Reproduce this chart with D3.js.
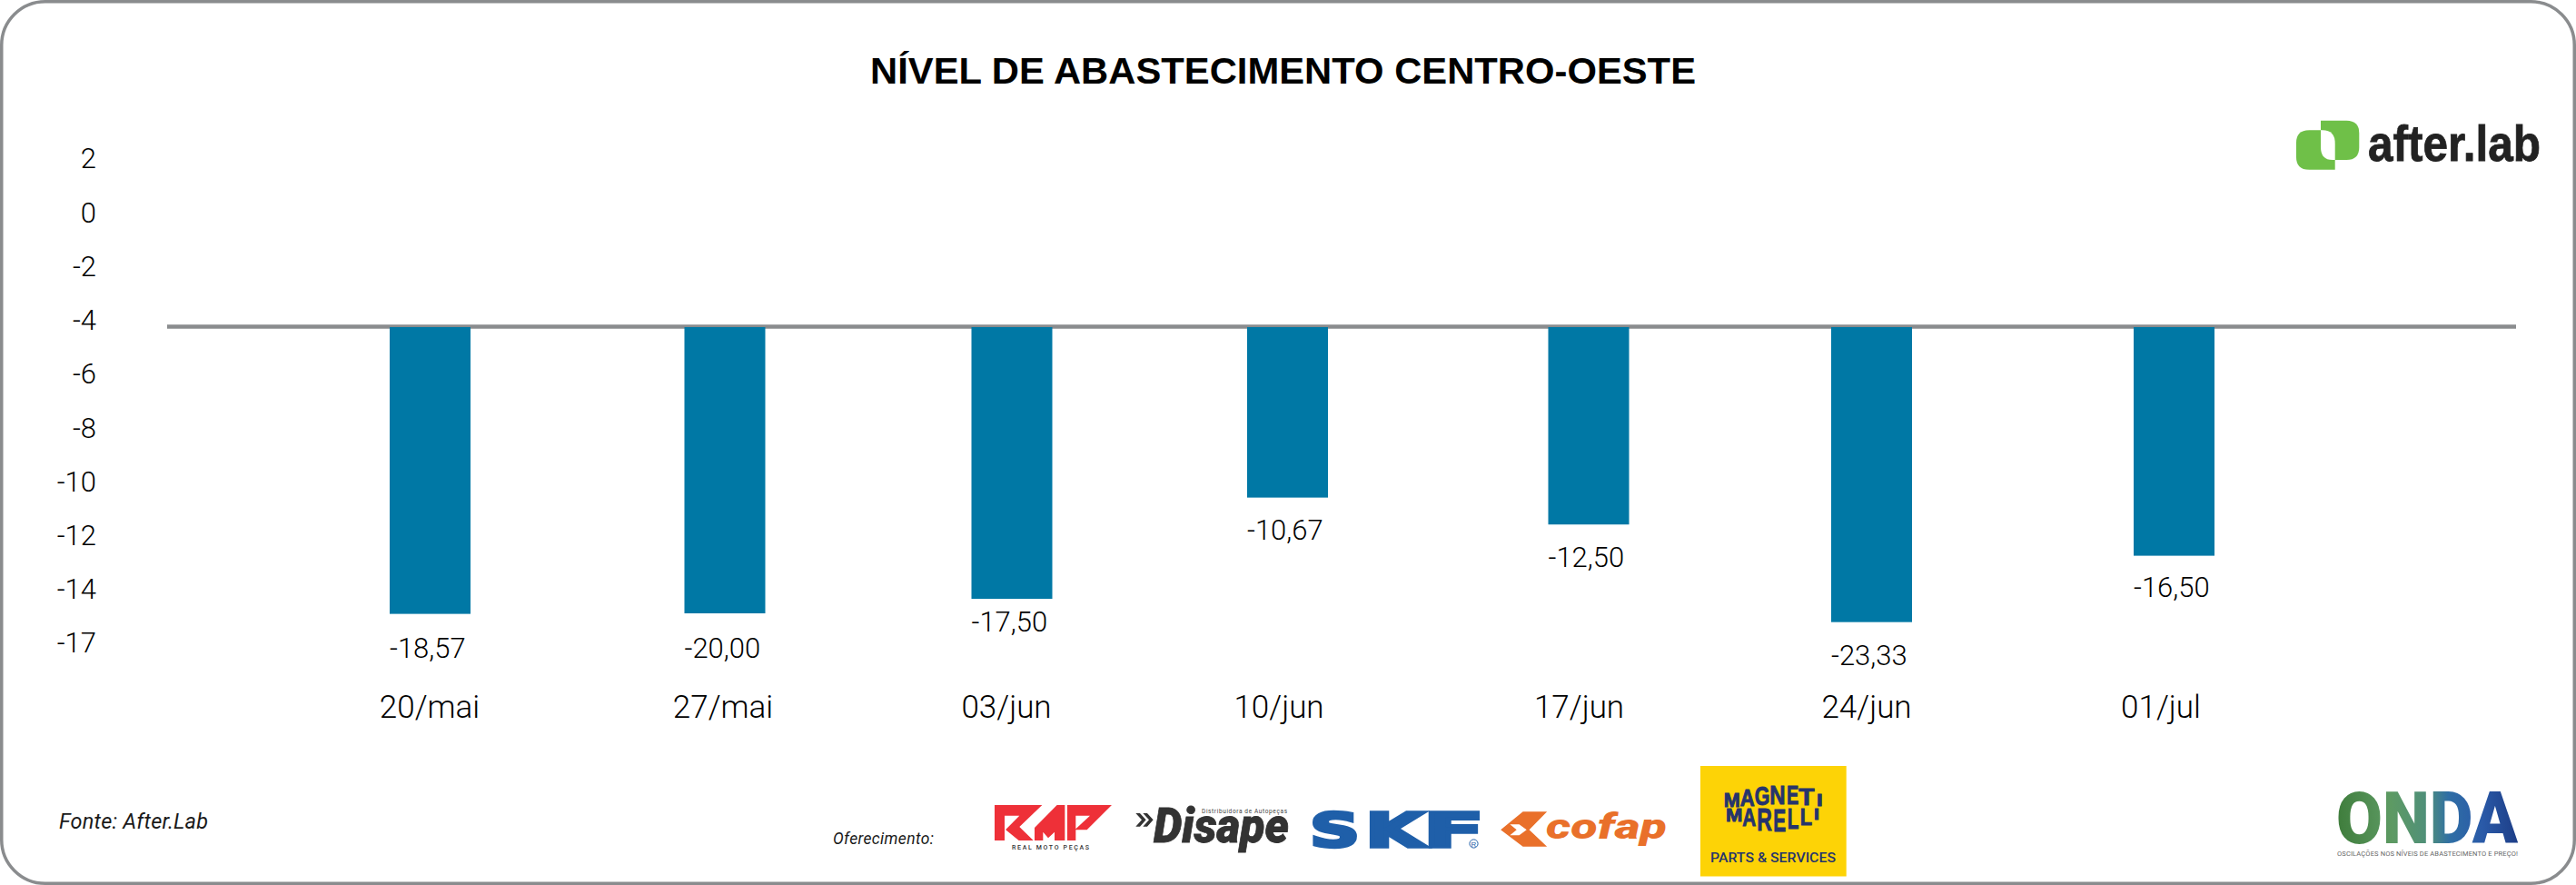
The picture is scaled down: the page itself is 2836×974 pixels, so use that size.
<!DOCTYPE html>
<html lang="pt-BR">
<head>
<meta charset="utf-8">
<title>Nível de abastecimento Centro-Oeste</title>
<script src="https://cdn.jsdelivr.net/npm/d3@7"></script>
<style>
html,body{margin:0;padding:0;background:#fff}
svg{display:block}
</style>
</head>
<body>
<svg id="chart" width="2836" height="974" viewBox="0 0 2836 974"></svg>
<script>
// ---- data ----
const titleText = "NÍVEL DE ABASTECIMENTO CENTRO-OESTE";
const categories = ["20/mai","27/mai","03/jun","10/jun","17/jun","24/jun","01/jul"];
// Where each bar ends when read against the printed axis
const barLevels = [-15.01,-14.98,-14.17,-10.35,-11.35,-15.47,-12.51];
// The value printed beneath each bar
const printedValues = [-18.57,-20.00,-17.50,-10.67,-12.50,-23.33,-16.50];
const yTickValues = [2,0,-2,-4,-6,-8,-10,-12,-14,-17];
const baselineValue = -4;

// ---- layout (the source places its columns and labels by hand) ----
const barLefts   = [429,753.5,1069.5,1373,1704.5,2016,2349];
const dateCentres= [473,796,1108,1408,1738.5,2055,2379];
const labelGaps  = [37,37.7,24,35,35.4,36.3,34];
const barWidth = 89;
const FONT = "Roboto, 'Liberation Sans', sans-serif";
const HELV = "'Liberation Sans', Arial, sans-serif";
const GREY = "#8a8c8e", BAR = "#0078a5";

const svg = d3.select("#chart");
const defs = svg.append("defs");

// ---- scales ----
const y = d3.scaleLinear().domain([2,-14,-17]).range([181.75,655.75,714.75]);
const xBar = d3.scaleOrdinal(categories, barLefts);
const xDate = d3.scaleOrdinal(categories, dateCentres);
const gap = d3.scaleOrdinal(categories, labelGaps);
const brLocale = d3.formatLocale({decimal:",",thousands:".",grouping:[3],currency:["R$",""],minus:"-"});
const fmtValue = brLocale.format(".2f");

// ---- frame ----
svg.append("rect").attr("x",1.75).attr("y",1.75).attr("width",2832.5).attr("height",970.5)
  .attr("rx",48).attr("fill","#fff").attr("stroke",GREY).attr("stroke-width",3.5);

// ---- title ----
svg.append("text").text(titleText).attr("x",958).attr("y",91.7)
  .attr("font-family",HELV).attr("font-weight",700).attr("font-size",41)
  .attr("textLength",909).attr("lengthAdjust","spacingAndGlyphs").attr("fill","#000");

// ---- y axis ----
const yAxis = svg.append("g").attr("transform","translate(106,0)")
  .call(d3.axisLeft(y).tickValues(yTickValues).tickSize(0).tickPadding(0).tickFormat(d3.format("d")));
yAxis.select(".domain").remove();
yAxis.selectAll("text").attr("y",-6.75).attr("font-family",FONT).attr("font-size",31)
  .attr("font-weight",300).attr("fill","#000").text(d=>String(d));

// ---- bars ----
const rows = categories.map((c,i)=>({c,level:barLevels[i],printed:printedValues[i]}));
svg.append("line").attr("x1",184).attr("x2",2770).attr("y1",y(baselineValue)).attr("y2",y(baselineValue))
  .attr("stroke",GREY).attr("stroke-width",4.4);
svg.append("g").selectAll("rect").data(rows).join("rect")
  .attr("x",d=>xBar(d.c)).attr("width",barWidth)
  .attr("y",y(baselineValue)+0.5).attr("height",d=>y(d.level)-y(baselineValue)-0.5)
  .attr("fill",BAR);

// ---- value labels ----
svg.append("g").selectAll("text").data(rows).join("text")
  .attr("x",d=>xBar(d.c)).attr("y",d=>y(d.level)+gap(d.c)+11.5)
  .attr("font-family",FONT).attr("font-size",31).attr("font-weight",300).attr("fill","#000")
  .text(d=>fmtValue(d.printed));

// ---- date labels ----
svg.append("g").selectAll("text").data(categories).join("text")
  .attr("x",d=>xDate(d)).attr("y",790).attr("text-anchor","middle")
  .attr("font-family",FONT).attr("font-size",35).attr("font-weight",300).attr("fill","#000").text(d=>d);

// ---- footer text ----
svg.append("text").text("Fonte: After.Lab").attr("x",65).attr("y",911.7)
  .attr("font-family",FONT).attr("font-style","italic").attr("font-size",23.5)
  .attr("textLength",164).attr("fill","#1a1a1a");
svg.append("text").text("Oferecimento:").attr("x",917).attr("y",929)
  .attr("font-family",FONT).attr("font-style","italic").attr("font-size",17.5)
  .attr("textLength",111).attr("fill","#1a1a1a");

// ---- helper: one logo letter fitted to an absolute box ----
function letter(g,ch,x0,x1,top,bottom,fill,family,weight,bold){
  return g.append("text").text(ch).attr("x",x0).attr("y",bottom)
    .attr("font-family",family).attr("font-weight",weight)
    .attr("font-size",(bottom-top)/0.716)
    .attr("textLength",x1-x0).attr("lengthAdjust","spacingAndGlyphs")
    .attr("fill",fill).attr("stroke",fill).attr("stroke-width",bold||0);
}

// ---- after.lab logo ----
const af = svg.append("g");
af.append("path").attr("fill","#6fc048")
  .attr("d","M2542 143.3H2570.7V186.7H2542Q2528 186.7 2528 172.7V157.3Q2528 143.3 2542 143.3Z");
af.append("path").attr("fill","#6fc048")
  .attr("d","M2555 132.7H2583.3Q2597.3 132.7 2597.3 146.7V162Q2597.3 176 2583.3 176H2555Z");
af.append("path").attr("fill","#fff")
  .attr("d","M2555 143.3H2557Q2570.7 143.3 2570.7 158V176H2568Q2555 176 2555 162Z");
af.append("text").text("after.lab").attr("x",2607).attr("y",177)
  .attr("font-family",HELV).attr("font-weight",700).attr("font-size",55)
  .attr("textLength",190).attr("lengthAdjust","spacingAndGlyphs").attr("fill","#222")
  .attr("stroke","#222").attr("stroke-width",0.8);

// ---- RMP logo ----
const rmp = svg.append("g").attr("transform","translate(1085,875) scale(0.3333)");
[
 "30,33 187,33 112,105 158,150 110,150 63,112 63,150 30,150",
 "236,33 262,33 262,150 228,150 228,122 207,142 190,122 190,150 162,150 162,108",
 "270,33 417,33 335,115 298,115 298,150 270,150"
].forEach(p=>rmp.append("polygon").attr("points",p).attr("fill","#ee3038"));
["63,68 112,68 63,118","298,68 345,68 298,112"].forEach(p=>rmp.append("polygon").attr("points",p).attr("fill","#fff"));
svg.append("text").text("REAL MOTO PEÇAS").attr("x",1114).attr("y",935)
  .attr("font-family",FONT).attr("font-weight",500).attr("font-size",7)
  .attr("textLength",85).attr("fill","#333");

// ---- Disape logo ----
const dis = svg.append("g").attr("transform","translate(1085,875) scale(0.3333)");
["496,60 510,60 530,82 510,104 496,104 516,82","520,60 534,60 554,82 534,104 520,104 540,82"]
  .forEach(p=>dis.append("polygon").attr("points",p).attr("fill","#333"));
svg.append("text").text("Disape").attr("x",1270).attr("y",926.7)
  .attr("font-family",FONT).attr("font-weight",900).attr("font-style","italic").attr("font-size",53)
  .attr("textLength",149).attr("lengthAdjust","spacingAndGlyphs").attr("fill","#333")
  .attr("stroke","#333").attr("stroke-width",0.8);
svg.append("text").text("Distribuidora de Autopeças").attr("x",1323).attr("y",894.5)
  .attr("font-family",FONT).attr("font-size",6.5).attr("textLength",94).attr("fill","#444");

// ---- SKF logo ----
const skf = svg.append("g");
const SKF_BLUE = "#1f5fa9";
letter(skf,"S",1442,1497,894,931.5,SKF_BLUE,"'DejaVu Sans'",700,3.5);
letter(skf,"K",1503,1568,894,931.5,SKF_BLUE,"'DejaVu Sans'",700,3.5);
letter(skf,"F",1567,1634,894,931.5,SKF_BLUE,"'DejaVu Sans'",700,3.5);
skf.append("circle").attr("cx",1622.5).attr("cy",928.5).attr("r",4.6).attr("fill","#fff").attr("stroke",SKF_BLUE).attr("stroke-width",1);
skf.append("text").text("R").attr("x",1622.5).attr("y",931.5).attr("text-anchor","middle")
  .attr("font-family",HELV).attr("font-size",8).attr("fill",SKF_BLUE);

// ---- cofap logo ----
const cof = svg.append("g").attr("transform","translate(1440,830) scale(0.408,0.3333)");
cof.append("polygon").attr("points","520,250 580,190 645,190 597,250 645,305 580,305").attr("fill","#e9702a");
cof.append("polygon").attr("points","545,232 570,232 590,250 570,268 545,268 563,250").attr("fill","#fff");
svg.append("text").text("cofap").attr("x",1702).attr("y",923)
  .attr("font-family",FONT).attr("font-weight",900).attr("font-style","italic").attr("font-size",38)
  .attr("textLength",133).attr("lengthAdjust","spacingAndGlyphs").attr("fill","#e9702a");

// ---- Magneti Marelli logo ----
svg.append("rect").attr("x",1872).attr("y",843).attr("width",160.7).attr("height",121.5).attr("fill","#fdd306");
const mm = svg.append("g");
const NAVY = "#26346c";
const mx = v => 1865 + v / 3, my = v => 835 + v / 3;
[["M",98,152,113,160],["A",152,200,100,155],["G",200,250,90,152],["N",250,302,85,150],["E",306,346,85,150],["T",346,398,95,152],["I",405,425,115,156]]
  .forEach(l=>letter(mm,l[0],mx(l[1]),mx(l[2]),my(l[3]),my(l[4]),NAVY,HELV,700,0.9));
[["M",105,160,164,208],["A",160,205,164,222],["R",208,258,164,238],["E",262,304,164,240],["L",308,346,164,232],["L",350,390,164,220],["I",396,414,164,200]]
  .forEach(l=>letter(mm,l[0],mx(l[1]),mx(l[2]),my(l[3]),my(l[4]),NAVY,HELV,700,0.9));
svg.append("text").text("PARTS & SERVICES").attr("x",1883).attr("y",949)
  .attr("font-family",FONT).attr("font-weight",500).attr("font-size",14.5)
  .attr("textLength",138).attr("lengthAdjust","spacingAndGlyphs").attr("fill",NAVY);

// ---- ONDA logo ----
const grad = defs.append("linearGradient").attr("id","onda")
  .attr("gradientUnits","userSpaceOnUse").attr("x1",2573).attr("y1",900).attr("x2",2772).attr("y2",890);
[[0,"#3f7d3c"],[0.3,"#5d9a63"],[0.5,"#4f8f7a"],[0.62,"#2f6ea5"],[0.8,"#2a5aa8"],[1,"#1d3d86"]]
  .forEach(s=>grad.append("stop").attr("offset",s[0]).attr("stop-color",s[1]));
svg.append("text").text("ONDA").attr("x",2572).attr("y",928)
  .attr("font-family",FONT).attr("font-weight",900).attr("font-size",79)
  .attr("textLength",200).attr("lengthAdjust","spacingAndGlyphs").attr("fill","url(#onda)");
svg.append("text").text("OSCILAÇÕES NOS NÍVEIS DE ABASTECIMENTO E PREÇO!").attr("x",2573).attr("y",942)
  .attr("font-family",FONT).attr("font-size",7.5).attr("textLength",199).attr("fill","#666");
</script>
</body>
</html>
